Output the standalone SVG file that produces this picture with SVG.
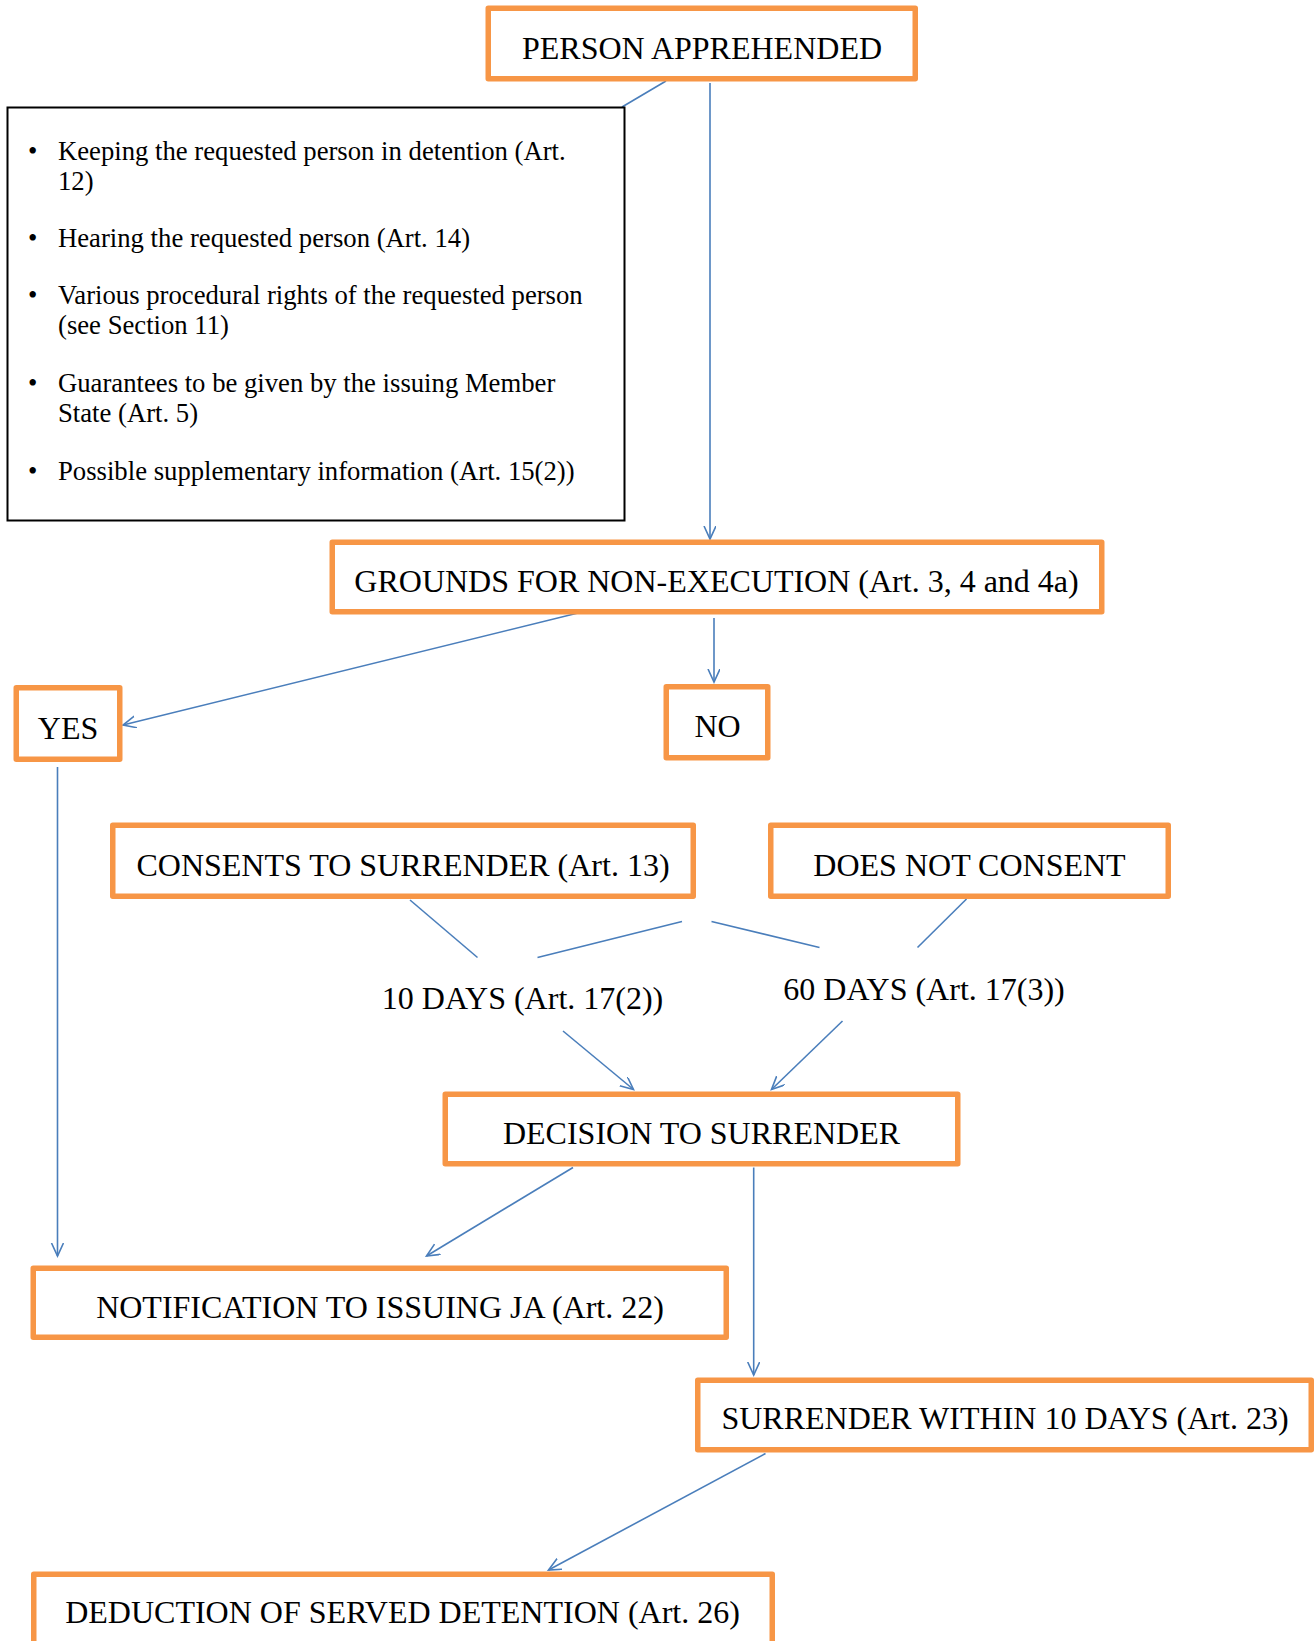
<svg xmlns="http://www.w3.org/2000/svg" width="1316" height="1641" viewBox="0 0 1316 1641">
<style>
.box{fill:#fff;stroke:#F79646;stroke-width:5.5;stroke-linejoin:round}
.note{fill:#fff;stroke:#000;stroke-width:2}
.lbl{font-family:"Liberation Serif","Times New Roman",serif;font-size:32px;fill:#000;text-anchor:middle}
.bul{font-family:"Liberation Serif","Times New Roman",serif;font-size:26.7px;fill:#000}
.con{stroke:#4A7EBB;stroke-width:1.6;fill:none}
</style>
<defs>
<marker id="arr" markerUnits="userSpaceOnUse" markerWidth="16" markerHeight="14" refX="13" refY="6" orient="auto">
<path d="M0,0 L13,6 L0,12" fill="none" stroke="#4A7EBB" stroke-width="1.6"/>
</marker>
</defs>
<rect width="1316" height="1641" fill="#fff"/>
<g id="connectors">
<line class="con" x1="666" y1="81" x2="622" y2="107"/>
<line class="con" x1="710" y1="83" x2="710" y2="539" marker-end="url(#arr)"/>
<line class="con" x1="578" y1="613" x2="123" y2="725" marker-end="url(#arr)"/>
<line class="con" x1="714" y1="618" x2="714" y2="682" marker-end="url(#arr)"/>
<line class="con" x1="57.5" y1="767" x2="57.5" y2="1256" marker-end="url(#arr)"/>
<line class="con" x1="410" y1="900" x2="477.5" y2="957.5"/>
<line class="con" x1="537.5" y1="957.5" x2="682" y2="921.5"/>
<line class="con" x1="711.5" y1="921.5" x2="819.5" y2="947.5"/>
<line class="con" x1="966.5" y1="899" x2="917.5" y2="947.5"/>
<line class="con" x1="563" y1="1031" x2="633.5" y2="1089.5" marker-end="url(#arr)"/>
<line class="con" x1="842.5" y1="1021" x2="771.5" y2="1089.5" marker-end="url(#arr)"/>
<line class="con" x1="573" y1="1167.5" x2="426.5" y2="1256" marker-end="url(#arr)"/>
<line class="con" x1="753.7" y1="1167.5" x2="753.7" y2="1375" marker-end="url(#arr)"/>
<line class="con" x1="765.5" y1="1453.5" x2="548.5" y2="1570" marker-end="url(#arr)"/>
</g>
<g id="person-apprehended">
<rect class="box" x="488.25" y="8.25" width="427" height="70.5"/>
<text class="lbl" x="702" y="59">PERSON APPREHENDED</text>
</g>
<g id="notes">
<rect class="note" x="7.5" y="107.5" width="617" height="413"/>
<g class="bul">
<text x="28" y="159.5">•</text><text x="58" y="159.5">Keeping the requested person in detention (Art.</text>
<text x="58" y="189.5">12)</text>
<text x="28" y="247">•</text><text x="58" y="247">Hearing the requested person (Art. 14)</text>
<text x="28" y="304">•</text><text x="58" y="304">Various procedural rights of the requested person</text>
<text x="58" y="334">(see Section 11)</text>
<text x="28" y="392">•</text><text x="58" y="392">Guarantees to be given by the issuing Member</text>
<text x="58" y="422">State (Art. 5)</text>
<text x="28" y="480">•</text><text x="58" y="480">Possible supplementary information (Art. 15(2))</text>
</g>
</g>
<g id="grounds">
<rect class="box" x="332.25" y="542.25" width="769.5" height="69.5"/>
<text class="lbl" x="716.5" y="591.5">GROUNDS FOR NON-EXECUTION (Art. 3, 4 and 4a)</text>
</g>
<g id="yes">
<rect class="box" x="16.25" y="687.75" width="103.5" height="71.5"/>
<text class="lbl" x="68" y="738.5">YES</text>
</g>
<g id="no">
<rect class="box" x="666.25" y="686.75" width="101.5" height="71"/>
<text class="lbl" x="717.5" y="737">NO</text>
</g>
<g id="consents">
<rect class="box" x="112.75" y="825.25" width="580.5" height="71"/>
<text class="lbl" x="403" y="875.5">CONSENTS TO SURRENDER (Art. 13)</text>
</g>
<g id="does-not-consent">
<rect class="box" x="770.75" y="825.25" width="397.5" height="71"/>
<text class="lbl" x="969.5" y="875.5">DOES NOT CONSENT</text>
</g>
<g id="ten-days">
<text class="lbl" x="522.5" y="1009">10 DAYS (Art. 17(2))</text>
</g>
<g id="sixty-days">
<text class="lbl" x="924" y="999.5">60 DAYS (Art. 17(3))</text>
</g>
<g id="decision">
<rect class="box" x="445.25" y="1094.25" width="512.5" height="69.5"/>
<text class="lbl" x="701.5" y="1143.5">DECISION TO SURRENDER</text>
</g>
<g id="notification">
<rect class="box" x="33.25" y="1268.25" width="693" height="69"/>
<text class="lbl" x="380" y="1317.5">NOTIFICATION TO ISSUING JA (Art. 22)</text>
</g>
<g id="surrender">
<rect class="box" x="697.75" y="1380.25" width="613.5" height="69.5"/>
<text class="lbl" x="1005" y="1429">SURRENDER WITHIN 10 DAYS (Art. 23)</text>
</g>
<g id="deduction">
<rect class="box" x="33.75" y="1574.25" width="738.5" height="100"/>
<text class="lbl" x="402.5" y="1622.5">DEDUCTION OF SERVED DETENTION (Art. 26)</text>
</g>
</svg>
